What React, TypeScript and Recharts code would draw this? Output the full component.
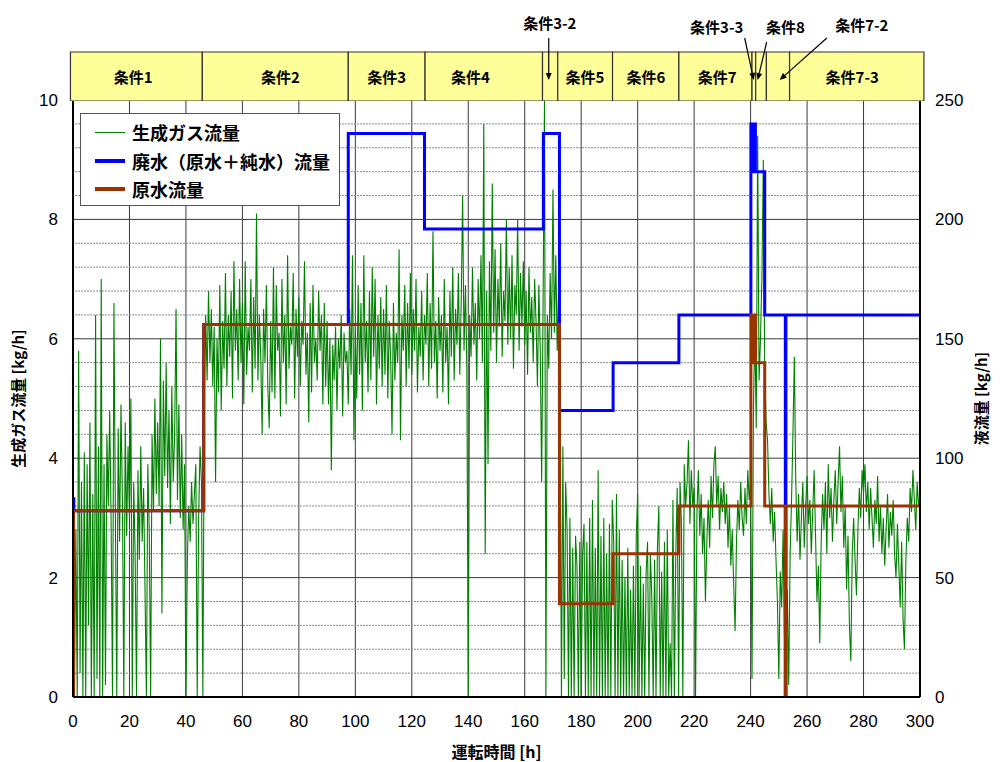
import React from 'react';
import {
  ComposedChart,
  Line,
  XAxis,
  YAxis,
  CartesianGrid,
  ReferenceArea,
  ReferenceLine,
  ReferenceDot,
} from 'recharts';

// 運転時間 [h] ticks and axis ticks
const hourTicks = [0, 20, 40, 60, 80, 100, 120, 140, 160, 180, 200, 220, 240, 260, 280, 300];
const gasTicks = [0, 2, 4, 6, 8, 10];
const liquidTicks = [0, 50, 100, 150, 200, 250];
// dotted minor grid, every 10 kg/h between the labelled ticks
const liquidMinorTicks = [10, 20, 30, 40, 60, 70, 80, 90, 110, 120, 130, 140, 160, 170, 180, 190, 210, 220, 230, 240];

// 生成ガス流量 [kg/h], one reading every 0.5 h from 0 h to 300 h
const gasStepH = 0.5;
const gasFlow = [
  3.3, 0, 2.8, 0, 5.8, 0.4, 3.6, 0, 4.1, 0, 3.9, 1.2, 4.6, 0, 3.4, 0, 6.4, 0.3, 4.2, 0,
  7.0, 0, 3.9, 0.2, 4.4, 3.2, 4.8, 2.9, 0, 6.6, 3.1, 0, 4.5, 2.6, 4.9, 3.3, 0, 4.6, 2.7, 4.2,
  3.0, 5.0, 0, 3.6, 2.4, 0, 3.8, 2.3, 4.2, 2.6, 3.5, 1.8, 0, 3.9, 2.8, 0, 4.4, 3.1, 5.0, 3.4,
  4.6, 3.2, 6.0, 1.4, 5.3, 3.7, 5.6, 3.5, 4.8, 2.9, 5.2, 3.6, 4.4, 6.5, 3.3, 4.9, 3.0, 4.4, 2.8, 3.9,
  0, 2.3, 3.2, 2.6, 3.6, 2.9, 3.4, 3.9, 0, 3.0, 4.2, 3.6, 0, 4.9, 6.4, 5.3, 6.8, 5.6, 6.5, 5.2,
  6.2, 3.6, 6.0, 5.1, 6.9, 4.8, 6.3, 5.5, 7.1, 5.2, 6.4, 5.7, 6.8, 5.0, 7.3, 5.8, 6.5, 5.3, 7.0, 5.6,
  6.6, 4.9, 7.3, 5.4, 6.2, 5.8, 7.0, 5.1, 6.7, 5.5, 8.1, 5.3, 6.4, 5.7, 4.4, 6.5, 5.6, 6.9, 5.2, 4.5,
  6.3, 5.1, 7.2, 5.0, 6.9, 5.8, 6.1, 4.7, 7.0, 5.6, 6.4, 4.9, 7.4, 5.5, 6.2, 5.9, 7.1, 5.0, 6.5, 5.7,
  6.7, 5.2, 6.3, 5.9, 7.3, 5.4, 6.1, 4.6, 6.6, 5.1, 6.9, 5.6, 6.0, 5.3, 6.8, 5.8, 6.4, 4.9, 6.6, 5.2,
  6.3, 4.9, 6.0, 3.8, 5.9, 5.3, 6.2, 4.8, 6.0, 5.5, 6.4, 4.7, 6.1, 5.6, 5.8, 4.9, 6.5, 5.4, 7.4, 4.3,
  6.2, 5.0, 6.9, 5.4, 6.6, 4.8, 7.4, 5.6, 6.3, 5.1, 6.8, 5.3, 7.2, 5.7, 7.0, 4.9, 6.4, 5.5, 6.7, 5.2,
  6.5, 5.4, 6.9, 5.0, 6.3, 5.7, 4.4, 6.6, 5.3, 6.1, 5.6, 7.5, 4.3, 6.4, 5.8, 6.9, 5.2, 6.6, 5.5, 7.1,
  5.4, 6.5, 5.8, 7.0, 5.1, 6.2, 5.7, 6.8, 5.3, 6.4, 5.9, 7.1, 5.2, 6.6, 5.5, 7.8, 5.6, 6.3, 5.0, 6.7,
  5.8, 6.4, 5.1, 7.0, 5.6, 6.2, 4.9, 6.8, 5.7, 7.2, 5.3, 6.5, 5.9, 7.1, 5.4, 6.6, 8.4, 5.8, 6.9, 5.5,
  0, 6.4, 5.7, 7.2, 5.9, 6.6, 5.3, 7.0, 6.0, 7.4, 5.6, 9.6, 2.4, 6.8, 3.9, 7.3, 5.8, 8.6, 6.1, 7.5,
  5.6, 7.0, 6.2, 7.6, 5.7, 6.8, 6.3, 8.0, 5.9, 7.2, 6.0, 7.4, 5.5, 6.9, 6.4, 8.0, 5.8, 7.1, 6.2, 7.3,
  5.9, 6.8, 5.4, 7.2, 6.1, 6.7, 5.6, 7.0, 6.3, 5.2, 6.9, 5.8, 3.6, 6.6, 10, 0, 6.4, 5.5, 7.1, 6.0,
  8.5, 6.1, 7.4, 5.8, 6.9, 5.0, 0, 4.2, 0.3, 3.6, 2.8, 0, 3.0, 0, 2.5, 0, 2.7, 2.2, 0, 2.6,
  0, 2.4, 2.9, 0, 2.6, 0, 3.0, 0, 3.3, 0, 2.5, 0, 3.8, 0, 2.7, 0, 3.0, 0, 2.4, 0,
  2.9, 0, 3.3, 2.6, 0, 3.4, 0, 2.8, 0, 2.3, 0, 2.0, 0, 2.5, 0, 1.8, 0, 2.2, 0, 2.7,
  3.4, 0, 2.2, 0, 1.9, 0, 2.1, 2.6, 0, 2.4, 1.7, 0, 2.3, 0, 2.5, 3.2, 0, 2.1, 0, 2.6,
  0, 2.8, 0, 0.9, 0, 3.3, 0, 2.4, 3.5, 0, 3.6, 2.9, 0, 3.9, 3.2, 3.6, 4.3, 2.9, 3.8, 3.2,
  3.5, 0, 3.1, 3.8, 2.7, 3.4, 2.4, 3.0, 1.6, 2.6, 3.3, 2.5, 3.7, 3.0, 3.9, 4.2, 3.2, 3.7, 2.8, 3.5,
  3.1, 3.6, 2.9, 3.4, 2.5, 3.2, 2.2, 2.8, 1.9, 1.1, 2.6, 3.3, 2.8, 3.6, 3.0, 2.7, 3.5, 2.9, 3.8, 3.3,
  3.6, 0.3, 4.8, 6.2, 4.5, 9.4, 5.3, 6.0, 7.0, 9.0, 5.5, 4.6, 4.3, 3.4, 2.9, 3.5, 2.6, 3.1, 2.3, 1.6,
  0.3, 2.1, 1.5, 2.8, 1.0, 0.6, 1.8, 0.2, 2.4, 3.3, 4.4, 5.7, 3.6, 2.6, 3.4, 2.3, 3.0, 3.6, 2.5, 3.2,
  3.7, 2.9, 3.3, 2.4, 3.1, 3.8, 2.7, 1.6, 2.2, 0.9, 2.6, 3.4, 2.8, 3.6, 2.4, 3.9, 3.0, 3.5, 2.6, 3.3,
  3.8, 2.9, 3.6, 4.2, 3.1, 3.7, 2.5, 3.2, 1.8, 2.7, 1.2, 0.6, 2.4, 3.0, 2.3, 1.7, 2.8, 3.5, 3.0, 3.8,
  3.4, 3.9, 3.1, 3.6, 2.8, 3.5, 3.0, 2.5, 3.3, 2.9, 3.7, 2.6, 3.2, 2.4, 3.0, 2.2, 2.8, 3.4, 2.5, 3.1,
  2.7, 3.3, 2.4, 2.0, 2.9, 2.2, 1.5, 2.6, 1.3, 0.8, 2.3, 3.0, 2.6, 3.5, 3.1, 3.8, 3.3, 2.8, 3.6, 3.2,
  3.4,
];

// 廃水（原水＋純水）流量 [kg/h], value held from each change time
const wasteTime = [0, 0.3, 46.3, 97.5, 124.5, 166.6, 172.3, 191.3, 214.6, 240.1, 240.5, 240.8, 241.2, 241.4, 241.7, 245, 252.3, 252.5, 300];
const wasteFlow = [83, 78, 156, 236, 196, 236, 120, 140, 160, 240, 220, 240, 220, 240, 220, 160, 0, 160, 160];

// 原水流量 [kg/h]
const rawTime = [0, 0.2, 46.3, 172.3, 191.3, 214.6, 240.1, 240.5, 240.8, 241.2, 241.4, 241.7, 245, 252.3, 252.5, 300];
const rawFlow = [0, 78, 156, 39, 60, 80, 160, 140, 160, 140, 160, 140, 80, 0, 80, 80];

// 条件 band
const condNames = ['条件1', '条件2', '条件3', '条件4', '', '条件5', '条件6', '条件7', '', '', '', '条件7-3'];
const condStart = [-0.9, 45.8, 97.5, 124.7, 166.3, 171.7, 191.1, 214.6, 240.5, 241.8, 245.6, 253.8];
const condEnd = [45.8, 97.5, 124.7, 166.3, 171.7, 191.1, 214.6, 240.5, 241.8, 245.6, 253.8, 301.4];
const condLabelAt = [21.3, 73.5, 111.1, 140.8, 0, 181.3, 202.9, 228.2, 0, 0, 0, 276.0];

// callouts for the narrow conditions (band chart units: h across, px up from band bottom)
const callouts = [
  { text: '条件3-2', at: 168.9, ty: 78.5, from: [168.5, 63], to: [168.5, 21] },
  { text: '条件3-3', at: 228.0, ty: 75, from: [237.9, 63], to: [241.1, 21] },
  { text: '条件8', at: 252.3, ty: 75, from: [245.7, 59], to: [242.5, 21] },
  { text: '条件7-2', at: 279.4, ty: 77, from: [267.0, 63], to: [250.3, 21] },
];

const gasData = gasFlow.map((v, i) => ({ t: i * gasStepH, v }));
const wasteData = wasteTime.map((t, i) => ({ t, w: wasteFlow[i] }));
const rawData = rawTime.map((t, i) => ({ t, r: rawFlow[i] }));
const bandData = condStart.map((t) => ({ t }));

const numFont = "'Liberation Sans', 'Noto Sans CJK JP', sans-serif";
const jpFont = "'Noto Sans CJK JP', 'Liberation Sans', sans-serif";

const legendItems = [
  { name: '生成ガス流量', color: '#008000', size: 1 },
  { name: '廃水（原水＋純水）流量', color: '#0000ff', size: 4 },
  { name: '原水流量', color: '#993300', size: 4 },
];

const Arrow = (p: any) => {
  const { x1, y1, x2, y2 } = p;
  const dx = x2 - x1;
  const dy = y2 - y1;
  const len = Math.hypot(dx, dy) || 1;
  const ux = dx / len;
  const uy = dy / len;
  const bx = x2 - ux * 7;
  const by = y2 - uy * 7;
  return (
    <g>
      <line x1={x1} y1={y1} x2={bx} y2={by} stroke="#000" strokeWidth={1.2} />
      <polygon
        points={`${x2},${y2} ${bx - uy * 3},${by + ux * 3} ${bx + uy * 3},${by - ux * 3}`}
        fill="#000"
      />
    </g>
  );
};

const labelShape = (text: string) => (p: any) => (
  <text
    x={p.cx}
    y={p.cy}
    textAnchor="middle"
    dominantBaseline="central"
    fontSize={15}
    fontWeight="bold"
    fontFamily={jpFont}
    fill="#000"
  >
    {text}
  </text>
);

export default function App() {
  const tickStyle = { fontSize: 17, fill: '#000', fontFamily: numFont };
  return (
    <div style={{ position: 'absolute', left: 0, top: 0, width: 1000, height: 762, background: '#fff' }}>
      <ComposedChart width={1000} height={762} margin={{ top: 100, right: 0, bottom: 0, left: 0 }}>
        <XAxis
          dataKey="t"
          type="number"
          domain={[0, 300]}
          ticks={hourTicks}
          interval={0}
          allowDataOverflow
          height={65}
          tickLine={false}
          tickSize={0}
          tickMargin={18}
          tick={tickStyle}
          axisLine={{ stroke: '#000', strokeWidth: 2 }}
          label={{ value: '運転時間 [h]', position: 'insideBottom', offset: 4, fontSize: 16, fontWeight: 'bold', fill: '#000', fontFamily: jpFont }}
        />
        <YAxis
          yAxisId="left"
          domain={[0, 10]}
          ticks={gasTicks}
          interval={0}
          allowDataOverflow
          width={73}
          tickLine={false}
          tickSize={0}
          tickMargin={15}
          tick={tickStyle}
          axisLine={{ stroke: '#000', strokeWidth: 2 }}
          label={{ value: '生成ガス流量 [kg/h]', angle: -90, position: 'insideLeft', offset: 19, fontSize: 15, fontWeight: 'bold', fill: '#000', fontFamily: jpFont, style: { textAnchor: 'middle' } }}
        />
        <YAxis
          yAxisId="right"
          orientation="right"
          domain={[0, 250]}
          ticks={liquidTicks}
          interval={0}
          allowDataOverflow
          width={80}
          tickLine={false}
          tickSize={0}
          tickMargin={15}
          tick={{ ...tickStyle, textAnchor: 'start' }}
          axisLine={{ stroke: '#000', strokeWidth: 2 }}
          label={{ value: '液流量 [kg/h]', angle: -90, position: 'insideRight', offset: 18, fontSize: 15, fontWeight: 'bold', fill: '#000', fontFamily: jpFont, style: { textAnchor: 'middle' } }}
        />
        {liquidMinorTicks.map((v) => (
          <ReferenceLine key={`m${v}`} yAxisId="right" y={v} stroke="#8a8a8a" strokeWidth={1} strokeDasharray="2 1" />
        ))}
        <CartesianGrid yAxisId="right" stroke="#3a3a3a" />
        <Line
          yAxisId="left"
          data={gasData}
          dataKey="v"
          type="linear"
          stroke="#008000"
          strokeWidth={1.1}
          dot={false}
          activeDot={false}
          isAnimationActive={false}
        />
        <Line
          yAxisId="right"
          data={wasteData}
          dataKey="w"
          type="stepAfter"
          stroke="#0000ff"
          strokeWidth={3}
          dot={false}
          activeDot={false}
          isAnimationActive={false}
        />
        <Line
          yAxisId="right"
          data={rawData}
          dataKey="r"
          type="stepAfter"
          stroke="#993300"
          strokeWidth={3}
          dot={false}
          activeDot={false}
          isAnimationActive={false}
        />
      </ComposedChart>

      <div style={{ position: 'absolute', left: 0, top: 0 }}>
        <ComposedChart width={1000} height={101} data={bandData} margin={{ top: 0, right: 80, bottom: 0, left: 73 }}>
          <XAxis dataKey="t" type="number" domain={[0, 300]} allowDataOverflow hide />
          <YAxis type="number" domain={[0, 101]} allowDataOverflow hide />
          {condStart.map((s, i) => (
            <ReferenceArea
              key={`c${i}`}
              x1={s}
              x2={condEnd[i]}
              y1={0}
              y2={49}
              fill="#ffff99"
              fillOpacity={1}
              stroke="#333"
              strokeWidth={1.2}
              ifOverflow="visible"
            />
          ))}
          {condNames.map((n, i) =>
            n ? (
              <ReferenceDot key={`l${i}`} x={condLabelAt[i]} y={24.5} r={0} ifOverflow="visible" shape={labelShape(n)} />
            ) : null
          )}
          {callouts.map((c, i) => (
            <ReferenceLine
              key={`a${i}`}
              segment={[{ x: c.from[0], y: c.from[1] }, { x: c.to[0], y: c.to[1] }]}
              ifOverflow="visible"
              shape={Arrow}
            />
          ))}
          {callouts.map((c, i) => (
            <ReferenceDot key={`t${i}`} x={c.at} y={c.ty} r={0} ifOverflow="visible" shape={labelShape(c.text)} />
          ))}
        </ComposedChart>
      </div>

      <div
        style={{
          position: 'absolute',
          left: 80,
          top: 113,
          width: 258,
          height: 91,
          border: '1px solid #555',
          background: '#fff',
          fontFamily: jpFont,
        }}
      >
        {legendItems.map((it, i) => (
          <div key={it.name} style={{ position: 'absolute', left: 0, top: 6 + i * 28.7, height: 24, width: 258 }}>
            <div
              style={{
                position: 'absolute',
                left: 14,
                top: 12 - it.size / 2,
                width: 30,
                height: it.size,
                background: it.color,
              }}
            />
            <span
              style={{
                position: 'absolute',
                left: 51,
                top: 0,
                lineHeight: '24px',
                fontSize: 18,
                fontWeight: 'bold',
                color: '#000',
                whiteSpace: 'nowrap',
              }}
            >
              {it.name}
            </span>
          </div>
        ))}
      </div>
    </div>
  );
}
